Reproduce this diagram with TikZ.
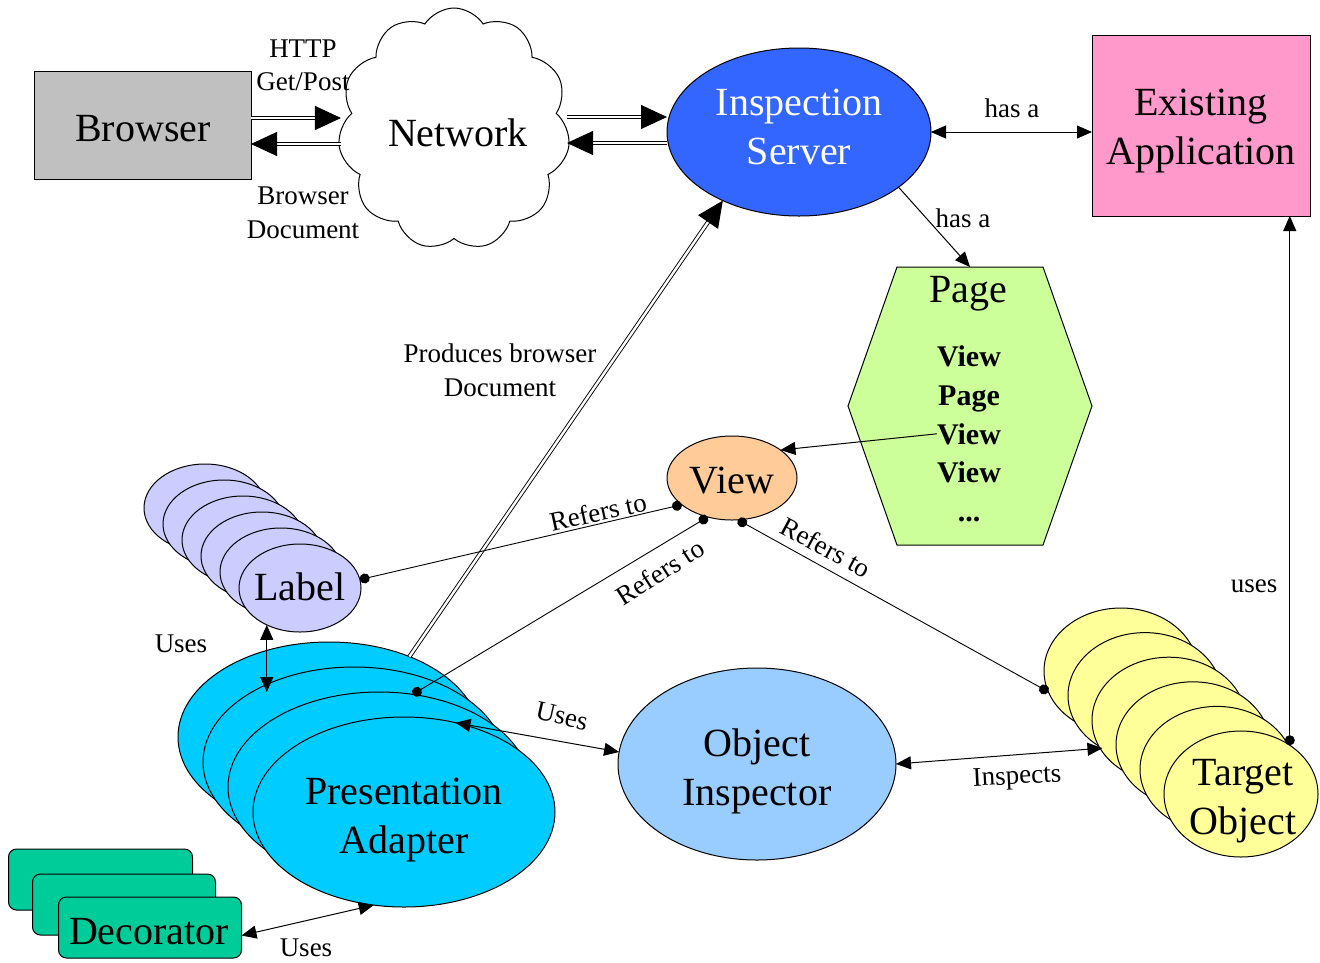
\documentclass[tikz,border=0pt]{standalone}
\usepackage{fontspec}
\setmainfont{Liberation Serif}
\usetikzlibrary{shapes.geometric,shapes.symbols,arrows.meta,calc}
\definecolor{cgray}{HTML}{C0C0C0}
\definecolor{cblue}{HTML}{3366FF}
\definecolor{cpink}{HTML}{FF99CC}
\definecolor{cpage}{HTML}{CCFF99}
\definecolor{cview}{HTML}{FFCC99}
\definecolor{clabel}{HTML}{CCCCFF}
\definecolor{cpa}{HTML}{00CCFF}
\definecolor{cdec}{HTML}{00CC99}
\definecolor{coi}{HTML}{99CCFF}
\definecolor{ctgt}{HTML}{FFFF99}
\begin{document}
\begin{tikzpicture}[x=1pt,y=-1pt,
  big/.style={font=\fontsize{40}{49}\selectfont, align=center, inner sep=0pt, anchor=base},
  lbl/.style={font=\fontsize{27}{33}\selectfont, align=center, inner sep=0pt, anchor=base},
  plist/.style={font=\fontsize{30}{36}\selectfont\bfseries, inner sep=0pt, anchor=base},
  shp/.style={draw=black, line width=1pt, inner sep=0pt, outer sep=0pt},
  ell/.style={shp, ellipse},
  dbl/.style={draw=black, double=white, double distance=2.4pt, line width=0.9pt, -{Triangle[length=26pt,width=24pt]}},
  arrone/.style={draw=black, line width=1pt, -{Triangle[length=15pt,width=13pt]}},
  arrtwo/.style={draw=black, line width=1pt, {Triangle[length=15pt,width=13pt]}-{Triangle[length=15pt,width=13pt]}},
  refline/.style={draw=black, line width=0.9pt, {Circle[length=10pt]}-{Circle[length=10pt]}},
  dotarr/.style={draw=black, line width=1pt, {Circle[length=10pt]}-{Triangle[length=15pt,width=13pt]}}
]
\useasboundingbox[fill=white] (0,0) rectangle (1320,962);

% ---------- shapes ----------
\node[shp, rectangle, fill=cgray, minimum width=217pt, minimum height=108pt] (browser) at (142.5,125) {};
\node[shp, cloud, fill=white, cloud puffs=11, cloud puff arc=115, cloud ignores aspect,
      minimum width=232pt, minimum height=242pt] (net) at (454,129) {};
\node[ell, fill=cblue, minimum width=264pt, minimum height=168pt] (insp) at (799,132) {};
\node[shp, rectangle, fill=cpink, minimum width=218pt, minimum height=181pt] (app) at (1201,125.5) {};

% page hexagon
\node[inner sep=0pt, outer sep=0pt, minimum width=244pt, minimum height=278pt] (page) at (970,406) {};
\draw[line width=1pt, fill=cpage]
  ($(page.north west)+(49,0)$) -- ($(page.north east)+(-49,0)$) -- (page.east)
  -- ($(page.south east)+(-49,0)$) -- ($(page.south west)+(49,0)$) -- (page.west) -- cycle;

\node[ell, fill=cview, minimum width=130pt, minimum height=84pt] (view) at (732,478) {};

% label stack
\foreach \k in {0,...,5}{
  \node[ell, fill=clabel, minimum width=122pt, minimum height=88pt] (lab\the\numexpr\k+1\relax) at ({205+19*\k},{508+16*\k}) {};
}
% presentation adapter stack
\foreach \k in {0,...,3}{
  \node[ell, fill=cpa, minimum width=302pt, minimum height=190pt] (pa\the\numexpr\k+1\relax) at ({329+25*\k},{737+25*\k}) {};
}
% decorator stack
\node[shp, rectangle, rounded corners=8pt, fill=cdec, minimum width=184pt, minimum height=61pt] (dec1) at (100.5,879.5) {};
\node[shp, rectangle, rounded corners=8pt, fill=cdec, minimum width=183pt, minimum height=61pt] (dec2) at (124,904.5) {};
\node[shp, rectangle, rounded corners=8pt, fill=cdec, minimum width=183pt, minimum height=61pt] (dec3) at (150,927.5) {};

\node[ell, fill=coi, minimum width=278pt, minimum height=192pt] (oi) at (757,764) {};

% target stack
\foreach \k in {0,...,5}{
  \node[ell, fill=ctgt, minimum width=154pt, minimum height=126pt] (tgt\the\numexpr\k+1\relax) at ({1121+24*\k},{671+24.6*\k}) {};
}

% ---------- texts ----------
\node[big] (tbrowser) at (143,141) {Browser};
\node[big] (tnet) at (458,146) {Network};
\node[big, text=white] (tinsp) at (799,164) {Inspection\\Server};
\node[big] (tapp) at (1201,164) {Existing\\Application};
\node[big] (tpage) at (968,302) {Page};
\node[plist] (pv1) at (969,366) {View};
\node[plist] (pv2) at (969,405) {Page};
\node[plist] (pv3) at (969,444) {View};
\node[plist] (pv4) at (969,482) {View};
\node[plist] (pv5) at (969,521) {...};
\node[big] (tview) at (732,493) {View};
\node[big] (tlabel) at (300,600) {Label};
\node[big] (tpa) at (404,853) {Presentation\\Adapter};
\node[big] (tdec) at (149,944) {Decorator};
\node[big] (toi) at (757,805) {Object\\Inspector};
\node[big] (ttgt) at (1243,834) {Target\\Object};

% ---------- connectors ----------
\draw[dbl] ([yshift=7pt]browser.east) -- ([yshift=7pt]browser.east -| net.west);
\draw[dbl] ([yshift=-19pt]browser.east -| net.west) -- ([yshift=-19pt]browser.east);
\draw[dbl] ([yshift=12pt]net.east) -- ([yshift=12pt]net.east -| insp.west);
\draw[dbl] ([yshift=-14pt]net.east -| insp.west) -- ([yshift=-14pt]net.east);
\draw[dbl] (pa1.45) -- (insp.222);

\draw[arrtwo] (insp.east) -- (insp.east -| app.west);
\draw[arrone] (insp.-29) -- (page.north);
\draw[arrone] (pv3.west) -- (view.30);

\draw[refline] (lab6.8) -- (view.208);
\draw[refline] (pa3.70) -- (view.238);
\draw[refline] (view.278) -- (tgt1.196);

\draw[arrtwo] (lab6.228) -- (lab6.228 |- pa3.north);
\draw[arrtwo] (pa4.60) -- (oi.175);
\draw[arrtwo] (dec3.-5) -- (pa4.252);
\draw[arrtwo] (oi.east) -- (tgt2.231);
\draw[dotarr] (tgt6.45) -- (tgt6.45 |- app.south);

% ---------- connector labels ----------
\node[lbl] (lhttp) at (303,90) {HTTP\\Get/Post};
\node[lbl, font=\fontsize{27}{34}\selectfont] (lbdoc) at (303,238) {Browser\\Document};
\node[lbl] (lhas1) at (1012,117) {has a};
\node[lbl] (lhas2) at (963,227) {has a};
\node[lbl, font=\fontsize{27}{34}\selectfont] (lprod) at (500,396) {Produces browser\\Document};
\node[lbl] (luses1) at (181,652) {Uses};
\node[lbl] (luses2) at (306,956) {Uses};
\node[lbl] (luses3) at (1254,592) {uses};
\node[lbl, anchor=center, rotate=-13] (luses4) at (562,716) {Uses};
\node[lbl, anchor=center, rotate=3] (linsp) at (1017,778) {Inspects};
\node[lbl, anchor=center, rotate=12.6] (lref1) at (598,512) {Refers to};
\node[lbl, anchor=center, rotate=32.6] (lref2) at (660,572) {Refers to};
\node[lbl, anchor=center, rotate=-28.2] (lref3) at (826,547) {Refers to};
\end{tikzpicture}
\end{document}
